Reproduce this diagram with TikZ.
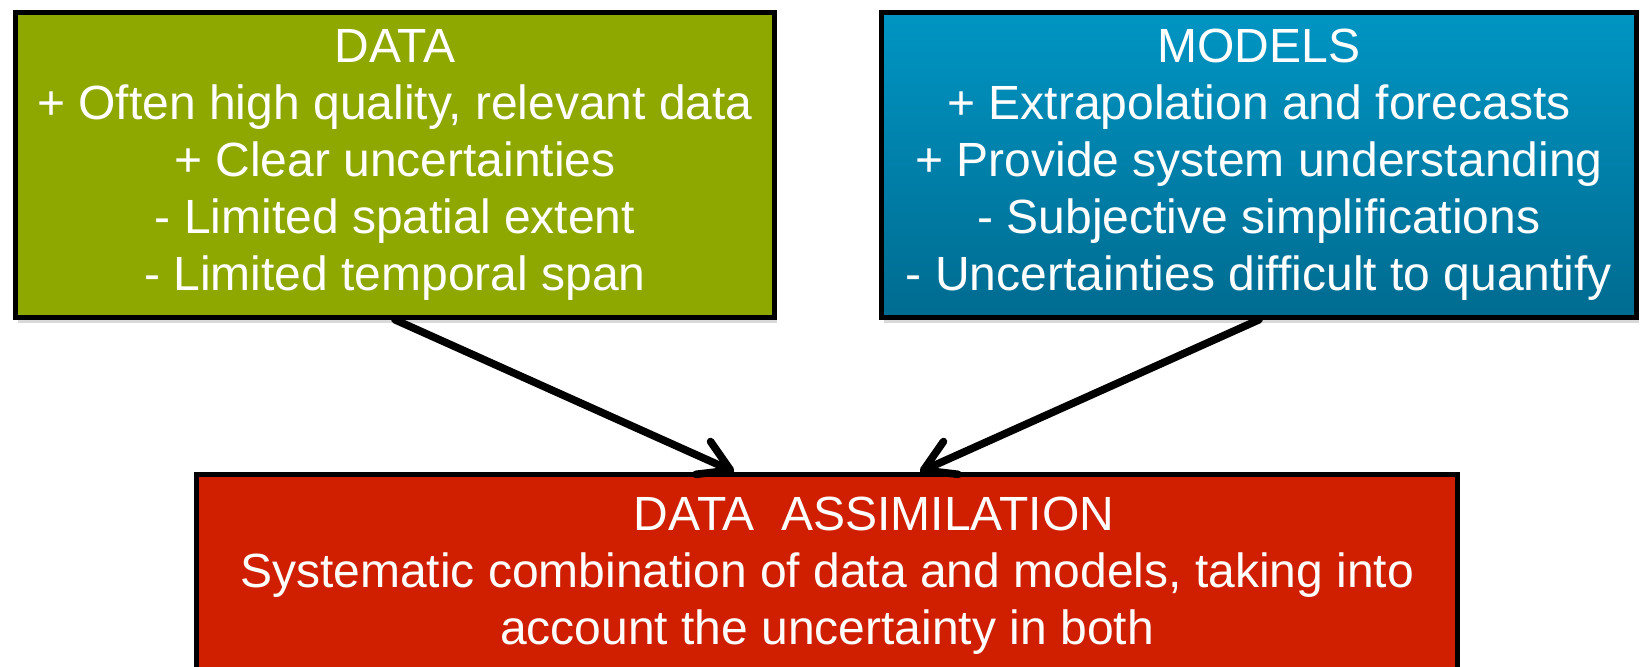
\documentclass[tikz,border=0pt]{standalone}
\usepackage{fontspec}
\setmainfont{Liberation Sans}
\usetikzlibrary{arrows.meta,calc,positioning,shadows}
\definecolor{dagreen}{HTML}{8EA800}
\definecolor{dablueTop}{HTML}{0095C3}
\definecolor{dablueBot}{HTML}{006B90}
\definecolor{dared}{HTML}{CF1F00}

\begin{document}
\begin{tikzpicture}[
      font=\fontsize{24}{28.5}\selectfont,
      node distance=76pt and 51pt,
      box/.style={draw=black,line width=2.5pt,text=white,align=center,
        inner sep=0pt,minimum height=152.25pt,
        drop shadow={shadow xshift=1pt,shadow yshift=-3pt,opacity=0.3}},
      source/.style={box,fill=dagreen,minimum width=379.5pt},
      model/.style={box,top color=dablueTop,bottom color=dablueBot,
        minimum width=377.5pt},
      result/.style={box,fill=dared,minimum width=630.5pt,minimum height=101pt},
      flow/.style={-{Straight Barb[length=15pt,width=18pt,round]},
        line width=3.8pt,line cap=round,draw=black}
    ]
    \useasboundingbox (0,0) rectangle (822pt,-333pt);
    \node[source] (data) at (197.5pt,-82.5pt)
      {DATA\\+ Often high quality, relevant data\\+ Clear uncertainties\\
       - Limited spatial extent\\- Limited temporal span};
    \node[model,right=of data] (models)
      {MODELS\\+ Extrapolation and forecasts\\+ Provide system understanding\\
       - Subjective simplifications\\- Uncertainties difficult to quantify};
    \node[result,below=of $(data.south)!0.5!(models.south)$] (assim)
      {\hspace*{47pt}DATA~~ASSIMILATION\\
       Systematic combination of data and models, taking into\\
       account the uncertainty in both};

    \draw[flow] (data.south) -- ([xshift=-46.5pt]assim.north);
    \draw[flow] (models.south) -- ([xshift=46.5pt]assim.north);
  \end{tikzpicture}
\end{document}
